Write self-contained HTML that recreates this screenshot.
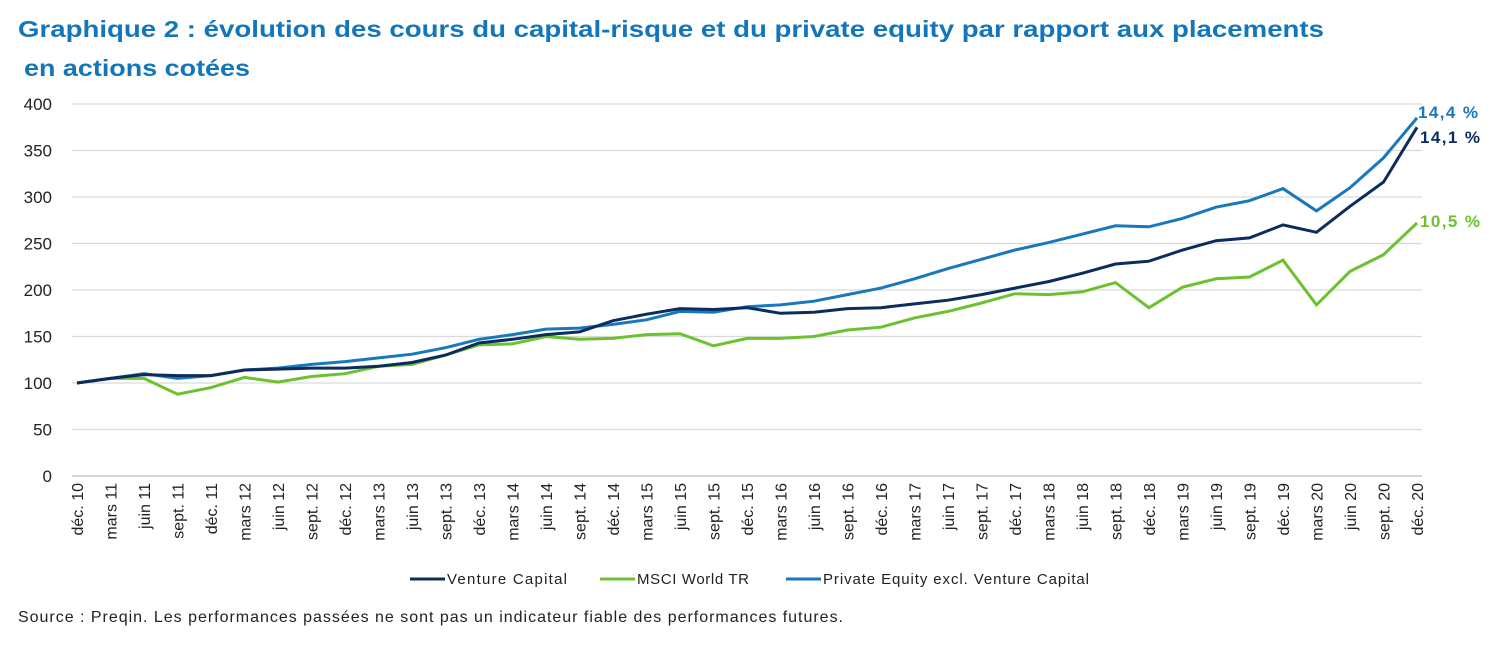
<!DOCTYPE html>
<html><head><meta charset="utf-8"><style>
body{margin:0;background:#fff;font-family:"Liberation Sans","DejaVu Sans",sans-serif;}
</style></head><body>
<svg width="1499" height="643" xmlns="http://www.w3.org/2000/svg" font-family="Liberation Sans, DejaVu Sans, sans-serif">
<text x="18" y="37" font-size="23" font-weight="bold" fill="#1376bb" textLength="1306" lengthAdjust="spacingAndGlyphs">Graphique 2 : évolution des cours du capital-risque et du private equity par rapport aux placements</text>
<text x="24" y="76" font-size="23" font-weight="bold" fill="#1376bb" textLength="226" lengthAdjust="spacingAndGlyphs">en actions cotées</text>
<g stroke="#d9d9d9" stroke-width="1.3">
<line x1="72" x2="1422" y1="104" y2="104"/><line x1="72" x2="1422" y1="150.5" y2="150.5"/>
<line x1="72" x2="1422" y1="197" y2="197"/><line x1="72" x2="1422" y1="243.5" y2="243.5"/>
<line x1="72" x2="1422" y1="290" y2="290"/><line x1="72" x2="1422" y1="336.5" y2="336.5"/>
<line x1="72" x2="1422" y1="383" y2="383"/><line x1="72" x2="1422" y1="429.5" y2="429.5"/>
</g>
<line x1="72" x2="1422" y1="476" y2="476" stroke="#bfbfbf" stroke-width="1.3"/>
<g font-size="17" fill="#222" text-anchor="end">
<text x="52" y="110">400</text><text x="52" y="156.5">350</text><text x="52" y="203">300</text>
<text x="52" y="249.5">250</text><text x="52" y="296">200</text><text x="52" y="342.5">150</text>
<text x="52" y="389">100</text><text x="52" y="435.5">50</text><text x="52" y="482">0</text>
</g>
<g id="xl" font-size="16" fill="#222" text-anchor="end"></g>
<polyline id="ms" fill="none" stroke="#6cc131" stroke-width="3"/>
<polyline id="pe" fill="none" stroke="#1778bd" stroke-width="3"/>
<polyline id="vc" fill="none" stroke="#0b2c5c" stroke-width="3"/>
<text x="1418" y="118" font-size="17" font-weight="bold" fill="#1778bd" textLength="60">14,4 %</text>
<text x="1420" y="143" font-size="17" font-weight="bold" fill="#0b2c5c" textLength="60">14,1 %</text>
<text x="1420" y="227" font-size="17" font-weight="bold" fill="#6cc131" textLength="60">10,5 %</text>
<g font-size="15" fill="#222">
<line x1="410" x2="445" y1="579" y2="579" stroke="#0b2c5c" stroke-width="3"/><text x="447" y="584" textLength="120">Venture Capital</text>
<line x1="600" x2="635" y1="579" y2="579" stroke="#6cc131" stroke-width="3"/><text x="637" y="584" textLength="112">MSCI World TR</text>
<line x1="786" x2="821" y1="579" y2="579" stroke="#1778bd" stroke-width="3"/><text x="823" y="584" textLength="266">Private Equity excl. Venture Capital</text>
</g>
<text x="18" y="622" font-size="16" fill="#222" textLength="825">Source : Preqin. Les performances passées ne sont pas un indicateur fiable des performances futures.</text>
</svg>
<script>
const vc=[100,105,109,108,108,114,115,116,116,118,122,130,143,147,152,155,167,174,180,179,181,175,176,180,181,185,189,195,202,209,218,228,231,243,253,256,270,262,290,316,375];
const ms=[100,105,105,88,95,106,101,107,110,118,120,130,141,142,150,147,148,152,153,140,148,148,150,157,160,170,177,186,196,195,198,208,181,203,212,214,232,184,220,238,272];
const pe=[100,105,110,105,108,114,116,120,123,127,131,138,147,152,158,159,163,168,177,176,182,184,188,195,202,212,223,233,243,251,260,269,268,277,289,296,309,285,310,342,385];
const X=i=>77+i*33.5, Y=v=>476-v*0.93;
const pts=a=>a.map((v,i)=>X(i).toFixed(1)+','+Y(v).toFixed(1)).join(' ');
document.getElementById('vc').setAttribute('points',pts(vc));
document.getElementById('ms').setAttribute('points',pts(ms));
document.getElementById('pe').setAttribute('points',pts(pe));
const m=['déc.','mars','juin','sept.'];
let g=document.getElementById('xl'),h='';
for(let i=0;i<41;i++){let q=i%4;let y=10+Math.ceil(i/4);if(q==0)y=10+i/4;
h+=`<text transform="translate(${X(i)+6},483) rotate(-90)">${m[q]} ${y}</text>`;}
g.innerHTML=h;
</script>
</body></html>
